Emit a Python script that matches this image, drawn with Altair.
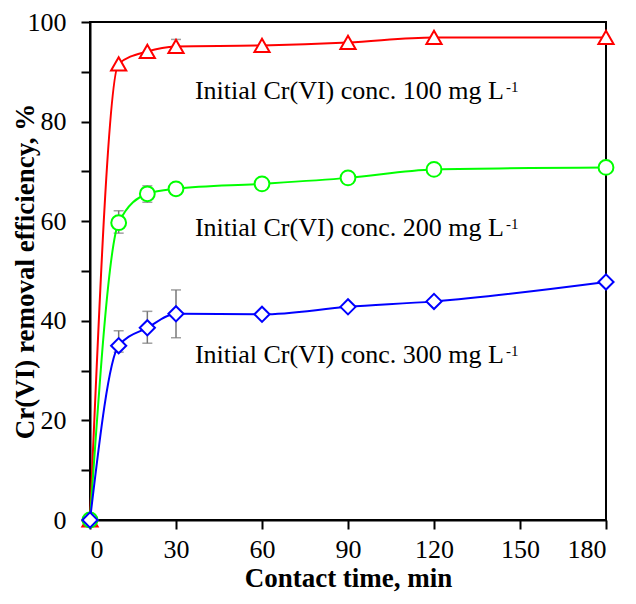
import altair as alt
import pandas as pd

# ---- data ----
time_min = [0, 10, 20, 30, 60, 90, 120, 180]
eff_100 = [0, 91.6, 94.1, 95.1, 95.3, 95.9, 96.9, 96.9]
eff_200 = [0, 59.7, 65.5, 66.5, 67.5, 68.7, 70.4, 70.8]
eff_300 = [0, 35.0, 38.6, 41.4, 41.3, 42.8, 43.9, 47.8]

series_keys = ["100", "200", "300"]
series_vals = [eff_100, eff_200, eff_300]
series_colors = ["#FF0000", "#00FF00", "#0000FF"]
series_shapes = ["triangle-up", "circle", "diamond"]
series_sizes = [230, 220, 230]

# error bars (time, low, high)
err_t = [30, 10, 20, 10, 20, 30]
err_lo = [94.0, 57.6, 63.8, 33.7, 35.5, 36.6]
err_hi = [96.5, 62.1, 67.1, 38.0, 41.9, 46.2]

# annotations
ann_text = ["Initial Cr(VI) conc. 100 mg L", "Initial Cr(VI) conc. 200 mg L", "Initial Cr(VI) conc. 300 mg L"]
ann_sup = ["-1", "-1", "-1"]
ann_t = [36.6, 36.6, 36.6]
ann_v = [84.6, 57.1, 31.6]

FONT = "Liberation Serif"
ANN_FS = 26

x_enc = alt.X(
    "t:Q",
    scale=alt.Scale(domain=[0, 180], nice=False, zero=False),
    axis=alt.Axis(
        values=[0, 30, 60, 90, 120, 150, 180],
        title="Contact time, min",
        grid=False,
        tickSize=9,
        tickWidth=2,
        domainWidth=2,
        labelPadding=7,
        titlePadding=3,
        labelFontSize=26,
        titleFontSize=27,
    ),
)
y_enc = alt.Y(
    "v:Q",
    scale=alt.Scale(domain=[0, 100], nice=False),
    axis=alt.Axis(
        values=[0, 10, 20, 30, 40, 50, 60, 70, 80, 90, 100],
        labelExpr="datum.value % 20 == 0 ? datum.label : ''",
        title="Cr(VI) removal efficiency, %",
        grid=False,
        tickSize=9,
        tickWidth=2,
        domainWidth=2,
        labelPadding=15,
        titlePadding=-12,
        labelFontSize=26,
        titleFontSize=27,
    ),
)

err_df = pd.DataFrame({"t": err_t, "v": err_lo, "v2": err_hi})
err_rule = alt.Chart(err_df).mark_rule(color="#777777", strokeWidth=1.5).encode(
    x=x_enc, y=y_enc, y2="v2:Q"
)
err_lo_tick = alt.Chart(err_df).mark_tick(
    color="#777777", orient="horizontal", size=10, thickness=1.5
).encode(x=x_enc, y=y_enc)
err_hi_tick = alt.Chart(err_df).mark_tick(
    color="#777777", orient="horizontal", size=10, thickness=1.5
).encode(x=x_enc, y=alt.Y("v2:Q"))

layers = [err_rule, err_lo_tick, err_hi_tick]
for key, vals, col, shp, sz in zip(series_keys, series_vals, series_colors, series_shapes, series_sizes):
    df = pd.DataFrame({"t": time_min, "v": vals})
    line = alt.Chart(df).mark_line(color=col, strokeWidth=2, interpolate="monotone").encode(
        x=x_enc, y=y_enc
    )
    pts = alt.Chart(df).mark_point(
        shape=shp, size=sz, filled=True, fill="white", stroke=col, strokeWidth=2, opacity=1
    ).encode(x=x_enc, y=y_enc)
    layers += [line, pts]

ann_df = pd.DataFrame({"t": ann_t, "v": ann_v, "text": ann_text, "sup": ann_sup})
ann = alt.Chart(ann_df).mark_text(
    align="left", baseline="alphabetic", font=FONT, fontSize=ANN_FS, color="black"
).encode(x=x_enc, y=y_enc, text="text:N")
sup = alt.Chart(ann_df).mark_text(
    align="left", baseline="alphabetic", font=FONT, fontSize=15, color="black",
    dx=11.887 * ANN_FS + 2, dy=-7,
).encode(x=x_enc, y=y_enc, text="sup:N")
layers += [ann, sup]

chart = (
    alt.layer(*layers)
    .properties(
        width=516,
        height=498,
        autosize=alt.AutoSizeParams(type="none"),
        padding={"left": 82, "top": 14, "right": 22, "bottom": 72},
        background="white",
    )
    .configure_axis(
        labelFont=FONT,
        titleFont=FONT,
        labelColor="black",
        titleColor="black",
        domainColor="black",
        tickColor="black",
        titleFontWeight="bold",
    )
    .configure_view(stroke="black", strokeWidth=2)
)

chart.save("out.html", embed_options={"renderer": "svg", "actions": False})
